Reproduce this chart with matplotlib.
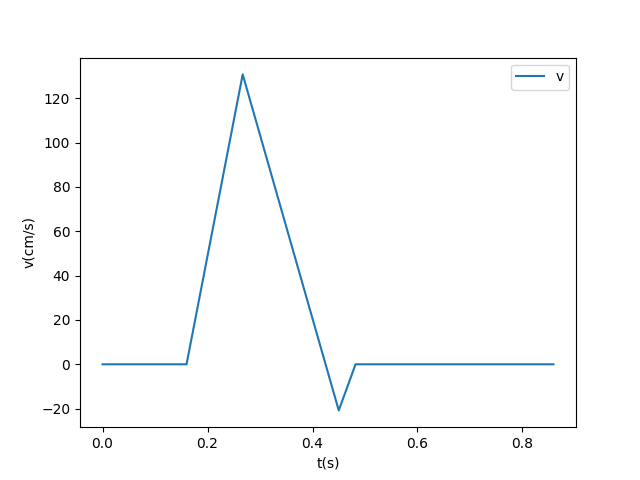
import matplotlib
matplotlib.use("Agg")
import matplotlib.pyplot as plt

# velocity profile vertices
t = [0.0, 0.16, 0.267, 0.45, 0.482, 0.859]
v = [0.0, 0.0, 130.8, -20.8, 0.0, 0.0]

plt.figure(figsize=(6.4, 4.8))
plt.plot(t, v, label="v")
plt.xlabel("t(s)")
plt.ylabel("v(cm/s)")
plt.legend()

plt.savefig("out.png", dpi=100)
